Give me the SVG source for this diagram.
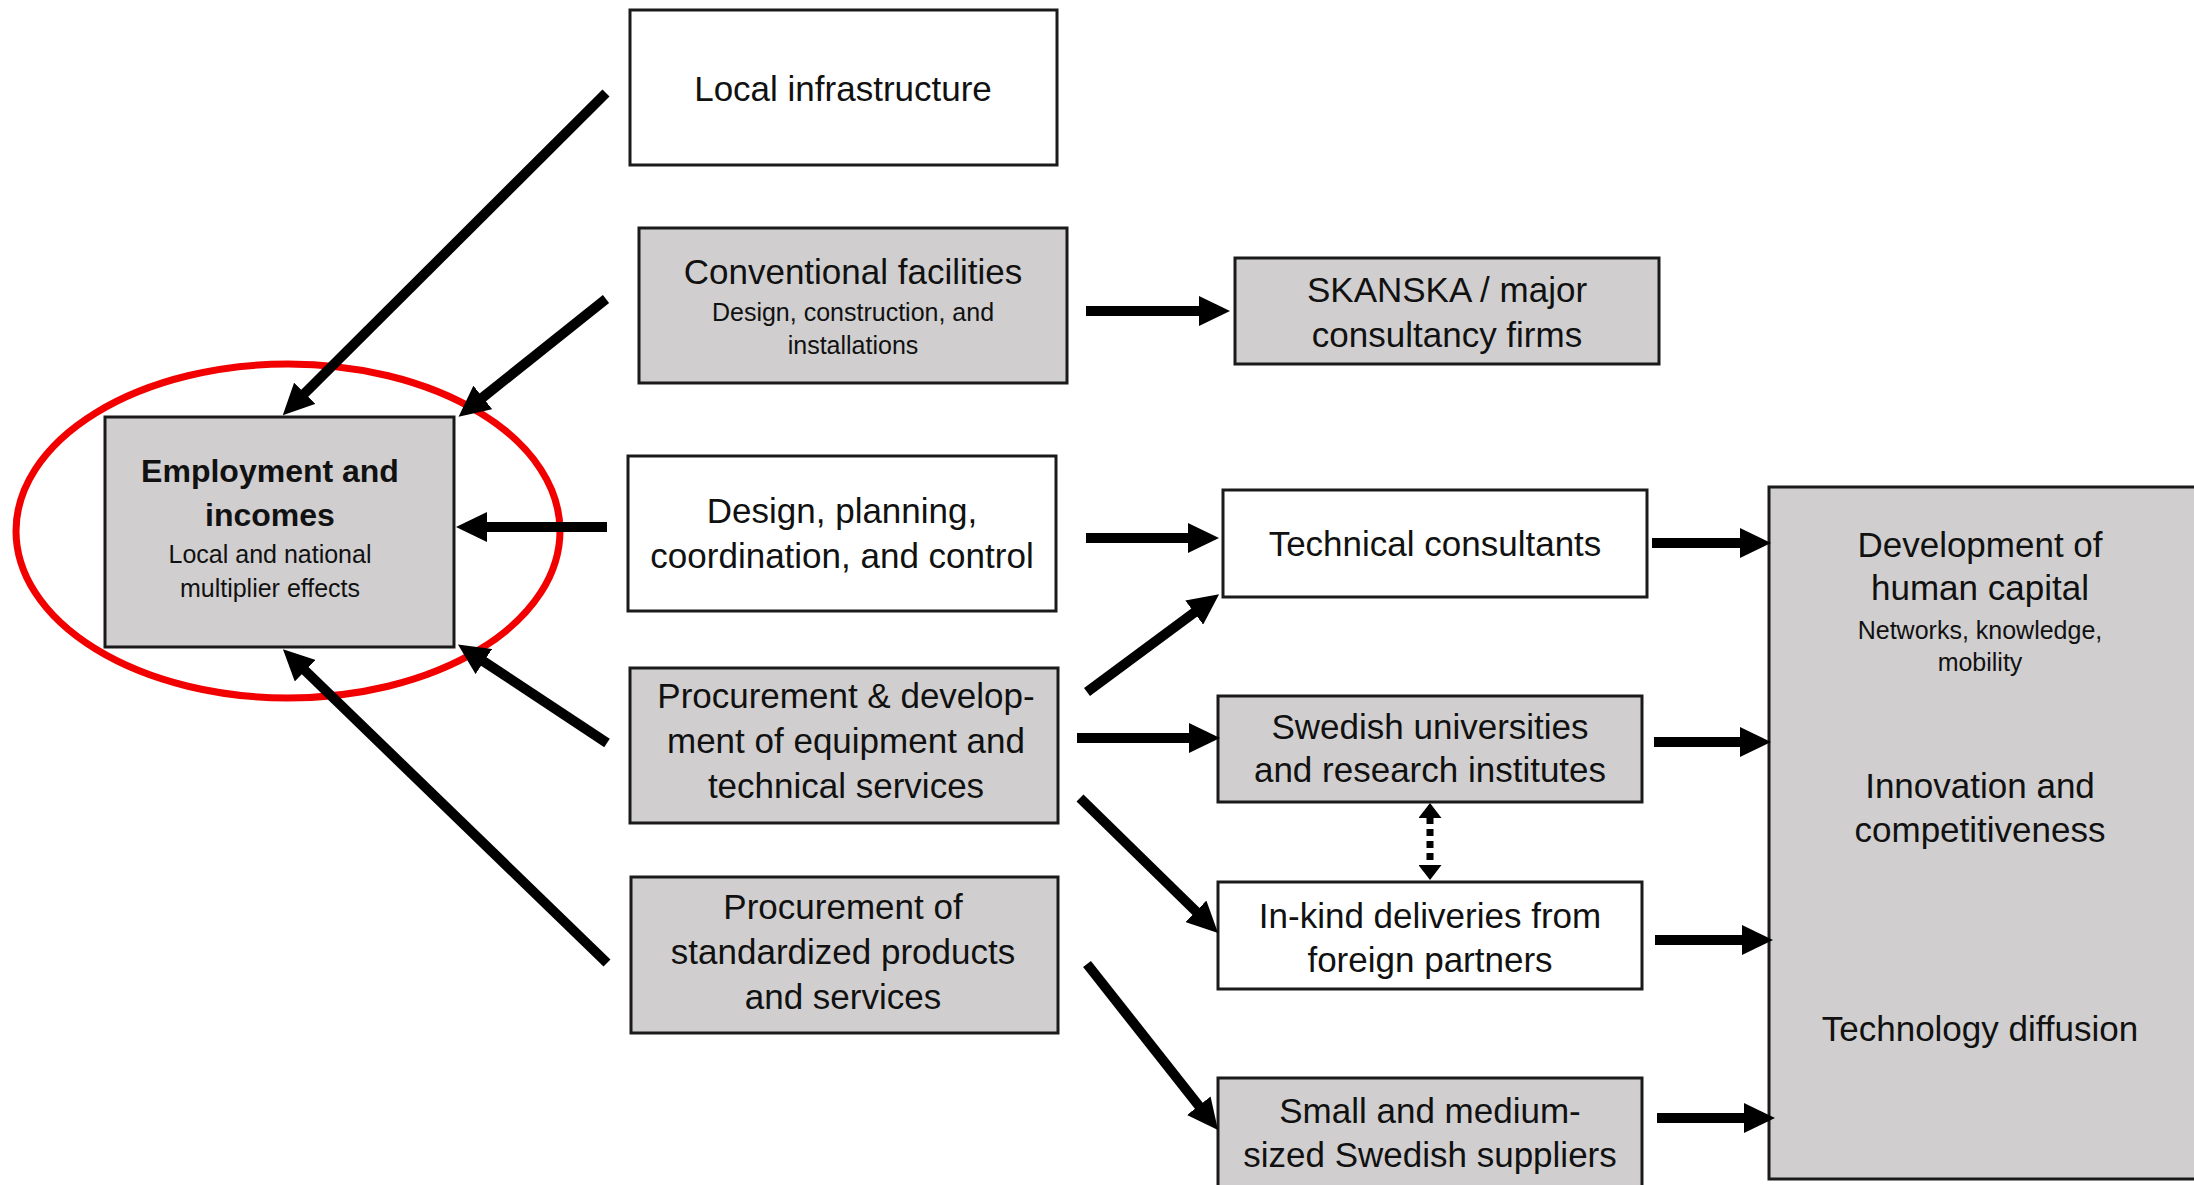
<svg xmlns="http://www.w3.org/2000/svg" width="2194" height="1185" viewBox="0 0 2194 1185">
<defs>
<style>
.box{stroke:#1a1a1a;stroke-width:3}
.gray{fill:#d0cecf}
.white{fill:#ffffff}
text{font-family:"Liberation Sans",Arial,sans-serif;fill:#111;text-anchor:middle}
.m{font-size:35px}
.s{font-size:25px}
.b{font-size:32px;font-weight:bold}
.arr{stroke:#000;stroke-width:10;fill:none;marker-end:url(#ah)}
.dot{stroke:#000;stroke-width:7;fill:none;stroke-dasharray:7 5;marker-start:url(#sh);marker-end:url(#sh)}
</style>
<marker id="ah" viewBox="0 0 31 30" refX="1" refY="15" markerWidth="31" markerHeight="30" markerUnits="userSpaceOnUse" orient="auto">
<path d="M0,0 L31,15 L0,30 z" fill="#000"/>
</marker>
<marker id="sh" viewBox="0 0 15 23" refX="1" refY="11.5" markerWidth="15" markerHeight="23" markerUnits="userSpaceOnUse" orient="auto-start-reverse">
<path d="M0,0 L15,11.5 L0,23 z" fill="#000"/>
</marker>
</defs>
<rect width="2194" height="1185" fill="#fff"/>

<g id="employment">
<rect class="box gray" x="105" y="417" width="349" height="230"/>
<text class="b" x="270" y="482">Employment and</text>
<text class="b" x="270" y="526">incomes</text>
<text class="s" x="270" y="563">Local and national</text>
<text class="s" x="270" y="597">multiplier effects</text>
</g>
<ellipse cx="288" cy="531" rx="272" ry="167" fill="none" stroke="#f20000" stroke-width="7"/>

<g id="local-infrastructure">
<rect class="box white" x="630" y="10" width="427" height="155"/>
<text class="m" x="843" y="101">Local infrastructure</text>
</g>
<g id="conventional-facilities">
<rect class="box gray" x="639" y="228" width="428" height="155"/>
<text class="m" x="853" y="284">Conventional facilities</text>
<text class="s" x="853" y="321">Design, construction, and</text>
<text class="s" x="853" y="354">installations</text>
</g>
<g id="design-planning">
<rect class="box white" x="628" y="456" width="428" height="155"/>
<text class="m" x="842" y="523">Design, planning,</text>
<text class="m" x="842" y="568">coordination, and control</text>
</g>
<g id="procurement-development">
<rect class="box gray" x="630" y="668" width="428" height="155"/>
<text class="m" x="846" y="708">Procurement &amp; develop-</text>
<text class="m" x="846" y="753">ment of equipment and</text>
<text class="m" x="846" y="798">technical services</text>
</g>
<g id="procurement-standardized">
<rect class="box gray" x="631" y="877" width="427" height="156"/>
<text class="m" x="843" y="919">Procurement of</text>
<text class="m" x="843" y="964">standardized products</text>
<text class="m" x="843" y="1009">and services</text>
</g>
<g id="skanska">
<rect class="box gray" x="1235" y="258" width="424" height="106"/>
<text class="m" x="1447" y="302">SKANSKA / major</text>
<text class="m" x="1447" y="347">consultancy firms</text>
</g>
<g id="technical-consultants">
<rect class="box white" x="1223" y="490" width="424" height="107"/>
<text class="m" x="1435" y="556">Technical consultants</text>
</g>
<g id="swedish-universities">
<rect class="box gray" x="1218" y="696" width="424" height="106"/>
<text class="m" x="1430" y="739">Swedish universities</text>
<text class="m" x="1430" y="782">and research institutes</text>
</g>
<g id="in-kind">
<rect class="box white" x="1218" y="882" width="424" height="107"/>
<text class="m" x="1430" y="928">In-kind deliveries from</text>
<text class="m" x="1430" y="972">foreign partners</text>
</g>
<g id="small-medium">
<rect class="box gray" x="1218" y="1078" width="424" height="130"/>
<text class="m" x="1430" y="1123">Small and medium-</text>
<text class="m" x="1430" y="1167">sized Swedish suppliers</text>
</g>
<g id="outcomes">
<rect class="box gray" x="1769" y="487" width="440" height="692"/>
<text class="m" x="1980" y="557">Development of</text>
<text class="m" x="1980" y="600">human capital</text>
<text class="s" x="1980" y="639">Networks, knowledge,</text>
<text class="s" x="1980" y="671">mobility</text>
<text class="m" x="1980" y="798">Innovation and</text>
<text class="m" x="1980" y="842">competitiveness</text>
<text class="m" x="1980" y="1041">Technology diffusion</text>
</g>

<g id="connectors">
<line class="arr" x1="606" y1="93" x2="304" y2="394"/>
<line class="arr" x1="606" y1="299" x2="482" y2="398"/>
<line class="arr" x1="607" y1="527" x2="486" y2="527"/>
<line class="arr" x1="607" y1="743" x2="483" y2="661"/>
<line class="arr" x1="607" y1="963" x2="304.5" y2="670"/>
<line class="arr" x1="1086" y1="311" x2="1200" y2="311"/>
<line class="arr" x1="1086" y1="538" x2="1189" y2="538"/>
<line class="arr" x1="1087" y1="692" x2="1195" y2="612"/>
<line class="arr" x1="1077" y1="738" x2="1190" y2="738"/>
<line class="arr" x1="1080" y1="798" x2="1196.6" y2="912"/>
<line class="arr" x1="1087" y1="964" x2="1199.4" y2="1106.5"/>
<line class="arr" x1="1652" y1="543" x2="1741" y2="543"/>
<line class="arr" x1="1654" y1="742" x2="1741" y2="742"/>
<line class="arr" x1="1655" y1="940" x2="1743" y2="940"/>
<line class="arr" x1="1657" y1="1118" x2="1745" y2="1118"/>
<line class="dot" x1="1430" y1="817" x2="1430" y2="866"/>
</g>
</svg>
